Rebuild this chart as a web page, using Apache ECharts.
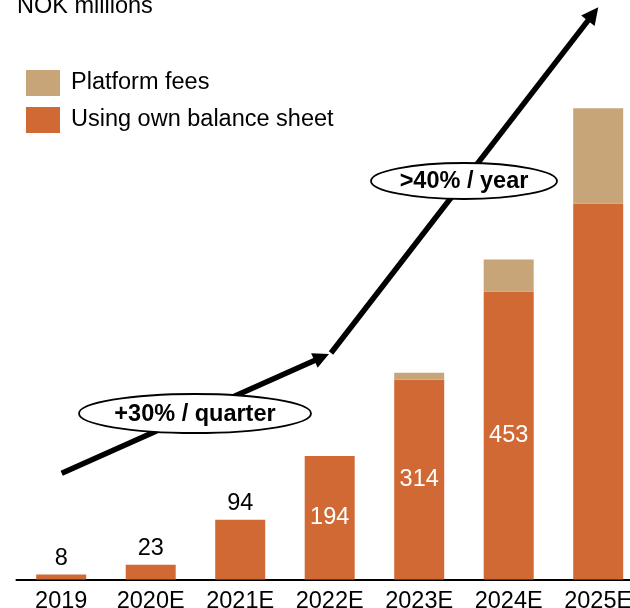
<!DOCTYPE html>
<html>
<head>
<meta charset="utf-8">
<script src="https://cdn.jsdelivr.net/npm/echarts@6/dist/echarts.min.js"></script>
<style>
  html, body { margin: 0; padding: 0; background: #fff; }
  #chart { width: 630px; height: 608px; }
</style>
</head>
<body>
<div id="chart"></div>
<script>
// Revenue by year, NOK millions
const years = ['2019', '2020E', '2021E', '2022E', '2023E', '2024E', '2025E'];
const ownBalanceSheet = [8, 23, 94, 194, 314, 453, 591];
const platformFees = [0, 0, 0, 0, 11, 50, 150];
const unlabelledYears = ['2025E'];
const growthNotes = ['+30% / quarter', '>40% / year'];

const FONT = "'Liberation Sans', Arial, Helvetica, sans-serif";
const FS = 23.5;
const ORANGE = '#D06933';
const TAN = '#C8A578';

const chart = echarts.init(document.getElementById('chart'), null, { renderer: 'canvas' });

// Small values get their label above the bar, large ones inside it
const ownData = ownBalanceSheet.map((v, i) => {
  const hidden = unlabelledYears.includes(years[i]);
  const above = v < 150;
  return {
    value: v,
    label: {
      show: !hidden,
      position: above ? 'top' : 'inside',
      distance: 4,
      color: above ? '#000' : '#fff'
    }
  };
});

// Thick black arrow: shaft plus a triangular head
function arrow(x1, y1, x2, y2, headLen, headHalf, width) {
  const dx = x2 - x1, dy = y2 - y1;
  const len = Math.sqrt(dx * dx + dy * dy);
  const ux = dx / len, uy = dy / len;
  const bx = x2 - ux * headLen, by = y2 - uy * headLen;
  const px = -uy, py = ux;
  return [
    {
      type: 'polyline',
      shape: { points: [[x1, y1], [bx + ux * 2, by + uy * 2]] },
      style: { stroke: '#000', lineWidth: width, fill: null },
      z: 10
    },
    {
      type: 'polygon',
      shape: { points: [[x2, y2], [bx + px * headHalf, by + py * headHalf], [bx - px * headHalf, by - py * headHalf]] },
      style: { fill: '#000', stroke: null },
      z: 10
    }
  ];
}

// Growth-rate callout: outlined ellipse with bold text
function note(text, cx, cy, rx, ry) {
  return [
    {
      type: 'ellipse',
      shape: { cx: cx, cy: cy, rx: rx, ry: ry },
      style: { fill: '#fff', stroke: '#000', lineWidth: 1.8 },
      z: 11
    },
    {
      type: 'text',
      style: {
        text: text, x: cx, y: cy + 1,
        align: 'center', verticalAlign: 'middle',
        fontSize: FS, fontWeight: 'bold', fontFamily: FONT, fill: '#000'
      },
      z: 12
    }
  ];
}

const option = {
  animation: false,
  backgroundColor: '#fff',
  textStyle: { fontFamily: FONT },
  title: {
    text: 'NOK millions',
    left: 17,
    top: -5,
    padding: 0,
    textStyle: { fontSize: FS, fontWeight: 'normal', color: '#000', fontFamily: FONT }
  },
  legend: {
    data: ['Platform fees', 'Using own balance sheet'],
    orient: 'vertical',
    left: 26,
    top: 70,
    padding: 0,
    itemWidth: 34,
    itemHeight: 26,
    itemGap: 11,
    icon: 'rect',
    selectedMode: false,
    textStyle: { fontSize: FS, color: '#000', fontFamily: FONT, padding: [0, 0, 0, 6] }
  },
  grid: {
    left: 16.45, right: -12.95, top: 7.1, bottom: 28.5,
    outerBoundsMode: 'none',
    containLabel: false
  },
  xAxis: {
    type: 'category',
    data: years,
    axisTick: { show: false },
    axisLine: { lineStyle: { color: '#000', width: 2 } },
    axisLabel: { color: '#000', fontSize: FS, margin: 10, fontFamily: FONT, interval: 0 }
  },
  yAxis: {
    type: 'value',
    min: 0,
    max: 900,
    show: false
  },
  series: [
    {
      name: 'Using own balance sheet',
      type: 'bar',
      stack: 'total',
      barWidth: 50,
      data: ownData,
      itemStyle: { color: ORANGE },
      label: { fontSize: FS, fontFamily: FONT }
    },
    {
      name: 'Platform fees',
      type: 'bar',
      stack: 'total',
      barWidth: 50,
      data: platformFees,
      itemStyle: { color: TAN }
    }
  ],
  graphic: [].concat(
    arrow(61.7, 473.3, 329, 354, 16, 8, 5.5),
    arrow(331, 353, 598.3, 7.3, 17, 8.5, 5.5),
    note(growthNotes[0], 195, 413.5, 116, 19.5),
    note(growthNotes[1], 464, 181, 93, 18)
  )
};

chart.setOption(option);
</script>
</body>
</html>
